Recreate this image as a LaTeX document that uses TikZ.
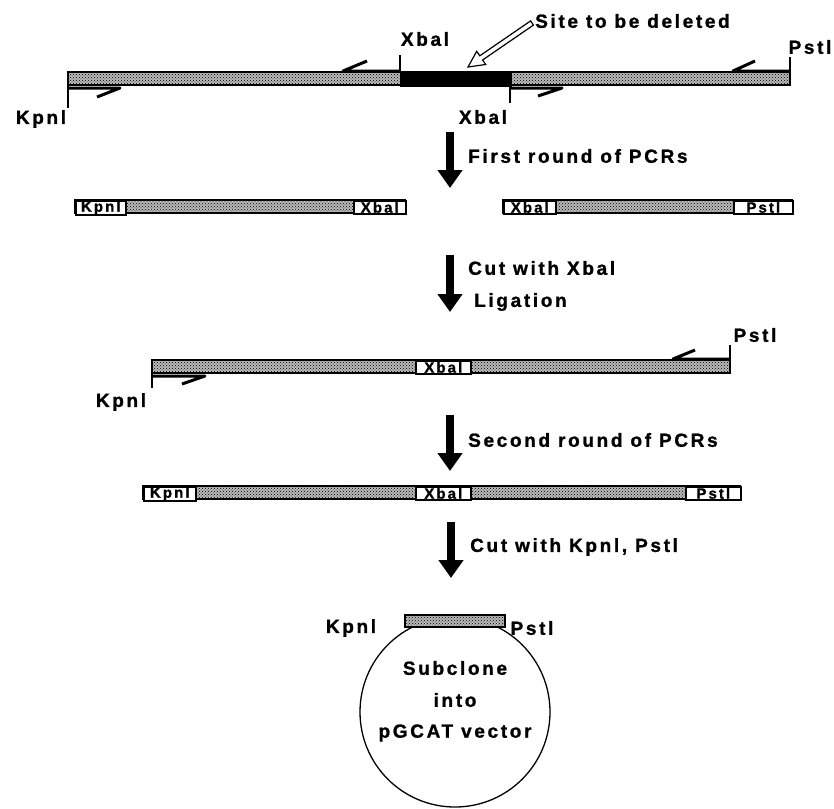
\documentclass[tikz,border=0pt]{standalone}
\usepackage{fontspec}
\newfontfamily\lab[LetterSpace=14, FakeBold=1.2]{Liberation Sans Bold}
\usetikzlibrary{arrows.meta,patterns}
\begin{document}
\begin{tikzpicture}[x=1pt,y=-1pt,
  lbl/.style={font=\lab\fontsize{19}{22}\selectfont, inner sep=0pt},
  boxlbl/.style={draw=black, line width=1.6pt, fill=white, font=\lab\fontsize{15}{15}\selectfont, inner sep=0pt, minimum height=13pt, anchor=north west},
  bar/.style={draw=black, line width=1.5pt, preaction={fill=gray!55}, pattern=crosshatch dots, pattern color=black, inner sep=0pt, outer sep=0pt, minimum height=13pt, anchor=north west},
  primer/.style={line width=3pt, line join=round},
  tick/.style={line width=1.6pt},
  bigarrow/.style={line width=8pt, -{Triangle[length=18pt,width=24pt]}},
]
\useasboundingbox (0,0) rectangle (834,808);

% ---------- Row 1 ----------
\node[bar, minimum width=722pt] (bar1) at (68,72) {};
\node[draw=black, fill=black, line width=1.5pt, inner sep=0pt, minimum width=110pt, minimum height=13pt, anchor=north west] (site) at (400,72) {};
\draw[tick] (400,71) -- (400,55);
\draw[primer] (367,61) -- (343,71) -- (400,71);
\draw[tick] (68,85) -- (68,108);
\draw[primer] (68,88) -- (120,88) -- (97,97);
\draw[tick] (510,85) -- (510,103);
\draw[primer] (510,88) -- (562,88) -- (538,96);
\draw[tick] (790,72) -- (790,57);
\draw[primer] (790,71) -- (733,71) -- (755,61);
\node[lbl] (k1) at (41,119) {Kpnl};
\node[lbl] (x1a) at (425,39) {Xbal};
\node[lbl] (x1b) at (483,117) {Xbal};
\node[lbl] (p1) at (810,47) {Pstl};
\node[lbl, anchor=west] (site-lbl) at (535,21) {Site to be deleted};
\draw[line width=1.2pt, fill=white, line join=miter]
  (468,67) -- (485.7,64.5) -- (482.6,60.0) -- (533.4,25.1) -- (530.6,20.9)
  -- (479.8,55.8) -- (476.7,51.3) -- cycle;

% ---------- Arrow 1 ----------
\coordinate (a1s) at (450,132);
\coordinate (a1e) at (450,188);
\draw[bigarrow] (a1s) -- (a1e);
\node[lbl, anchor=west] (t1) at (468,156) {First round of PCRs};

% ---------- Row 2 ----------
\node[bar, minimum width=330pt] (bar2a) at (75,200) {};
\node[boxlbl, minimum width=50pt] (k2) at (75,200) {Kpnl};
\node[boxlbl, minimum width=52pt] (x2a) at (353,200) {Xbal};
\node[bar, minimum width=289pt] (bar2b) at (503,200) {};
\node[boxlbl, minimum width=52pt] (x2b) at (503,200) {Xbal};
\node[boxlbl, minimum width=59pt] (p2) at (733,200) {Pstl};

% ---------- Arrow 2 ----------
\coordinate (a2s) at (450,255);
\coordinate (a2e) at (450,312);
\draw[bigarrow] (a2s) -- (a2e);
\node[lbl, anchor=west] (t2a) at (468,268) {Cut with Xbal};
\node[lbl, anchor=west] (t2b) at (474,302) {Ligation};

% ---------- Row 3 ----------
\node[bar, minimum width=578pt] (bar3) at (152,360) {};
\node[boxlbl, minimum width=55pt] (x3) at (415,360) {Xbal};
\draw[tick] (152,373) -- (152,388);
\draw[primer] (152,376) -- (205,376) -- (182,384);
\draw[tick] (730,360) -- (730,345);
\draw[primer] (730,359) -- (673,359) -- (695,350);
\node[lbl] (k3) at (121,402) {Kpnl};
\node[lbl] (p3) at (755,335) {Pstl};

% ---------- Arrow 3 ----------
\coordinate (a3s) at (450,415);
\coordinate (a3e) at (450,471);
\draw[bigarrow] (a3s) -- (a3e);
\node[lbl, anchor=west] (t3) at (468,440) {Second round of PCRs};

% ---------- Row 4 ----------
\node[bar, minimum width=597pt] (bar4) at (143,486) {};
\node[boxlbl, minimum width=52pt] (k4) at (143,486) {Kpnl};
\node[boxlbl, minimum width=55pt] (x4) at (415,486) {Xbal};
\node[boxlbl, minimum width=55pt] (p4) at (685,486) {Pstl};

% ---------- Arrow 4 ----------
\coordinate (a4s) at (451,522);
\coordinate (a4e) at (451,578);
\draw[bigarrow] (a4s) -- (a4e);
\node[lbl, anchor=west] (t4) at (470,547) {Cut with Kpnl, Pstl};

% ---------- Vector ----------
\node[draw, circle, line width=1.3pt, minimum size=190pt, inner sep=0pt] (vec) at (455,712) {};
\node[bar, minimum width=100pt, minimum height=12pt] (ins) at (405,615) {};
\node[lbl] (k5) at (351,628) {Kpnl};
\node[lbl] (p5) at (532,628) {Pstl};
\node[lbl] (v1) at (455,668) {Subclone};
\node[lbl] (v2) at (455,700) {into};
\node[lbl] (v3) at (455,733) {pGCAT vector};
\end{tikzpicture}
\end{document}
